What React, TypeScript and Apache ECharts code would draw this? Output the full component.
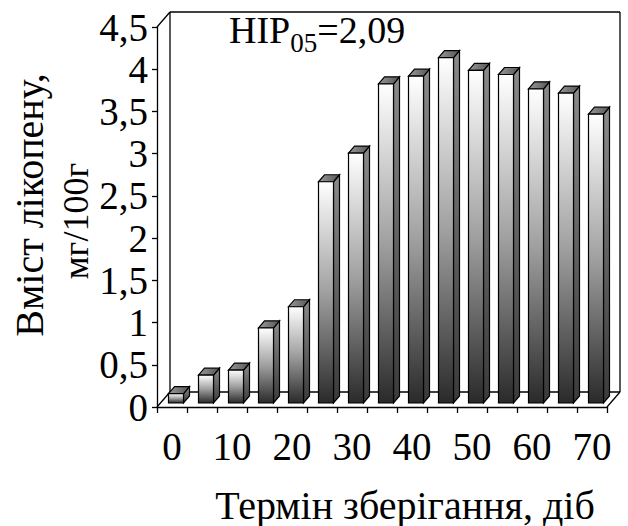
import React, { useEffect, useRef } from "react";
import * as echarts from "echarts";

const categories = ["0", "5", "10", "15", "20", "25", "30", "35", "40", "45", "50", "55", "60", "65", "70"];
const values = [0.11, 0.33, 0.39, 0.89, 1.14, 2.62, 2.96, 3.78, 3.87, 4.09, 3.94, 3.89, 3.72, 3.67, 3.42];
const yMin = 0;
const yMax = 4.5;
const yInterval = 0.5;
const xTitle = "Термін зберігання, діб";
const yTitle1 = "Вміст лікопену,";
const yTitle2 = "мг/100г";
const hipMain = "НІР";
const hipSub = "05";
const hipValue = "=2,09";

const FONT = "Liberation Serif";

export default function App() {
  const ref = useRef<HTMLDivElement>(null);
  useEffect(() => {
    if (!ref.current) return;
    const chart = echarts.init(ref.current, null, { renderer: "svg" });
    const WALL_DX = 13;
    const WALL_DY = -15;
    const FACE_DX = 4;
    const FACE_DY = -4;
    const BAR_DX = 6;
    const BAR_DY = -7;

    const option: any = {
      animation: false,
      backgroundColor: "#ffffff",
      textStyle: { fontFamily: FONT },
      grid: { left: 157, top: 27, width: 450, height: 380, containLabel: false },
      xAxis: {
        type: "category",
        data: categories,
        boundaryGap: true,
        axisLine: { show: true, lineStyle: { color: "#000", width: 1.3 } },
        axisTick: { show: true, interval: 0, length: 6, lineStyle: { color: "#000", width: 1.3 } },
        axisLabel: {
          interval: 1,
          margin: 20,
          color: "#000",
          fontFamily: FONT,
          fontSize: 39,
        },
        splitLine: { show: false },
      },
      yAxis: {
        type: "value",
        min: yMin,
        max: yMax,
        interval: yInterval,
        axisLine: { show: true, lineStyle: { color: "#000", width: 1.3 } },
        axisTick: { show: true, length: 5, lineStyle: { color: "#000", width: 1.3 } },
        axisLabel: {
          margin: 9,
          color: "#000",
          fontFamily: FONT,
          fontSize: 39,
          formatter: (v: number) => String(v).replace(".", ","),
        },
        splitLine: { show: false },
      },
      graphic: [
        {
          type: "text",
          x: 29,
          y: 205,
          rotation: Math.PI / 2,
          style: {
            text: yTitle1,
            font: "40px Liberation Serif",
            fill: "#000",
            align: "center",
            verticalAlign: "middle",
          },
        },
        {
          type: "text",
          x: 76,
          y: 221,
          rotation: Math.PI / 2,
          style: {
            text: yTitle2,
            font: "36px Liberation Serif",
            fill: "#000",
            align: "center",
            verticalAlign: "middle",
          },
        },
        {
          type: "text",
          x: 405,
          y: 505,
          style: {
            text: xTitle,
            font: "40px Liberation Serif",
            fill: "#000",
            align: "center",
            verticalAlign: "middle",
          },
        },
        {
          type: "text",
          x: 229,
          y: 11,
          style: {
            text: "{a|" + hipMain + "}{s|" + hipSub + "}{a|" + hipValue + "}",
            align: "left",
            verticalAlign: "top",
            rich: {
              a: {
                fontFamily: FONT,
                fontSize: 38,
                lineHeight: 38,
                verticalAlign: "top",
                color: "#000",
              },
              s: {
                fontFamily: FONT,
                fontSize: 27,
                lineHeight: 27,
                padding: [18, 0, 0, 0],
                verticalAlign: "top",
                color: "#000",
              },
            },
          },
        },
      ],
      series: [
        {
          type: "custom",
          name: "frame",
          clip: false,
          silent: true,
          z: 1,
          data: [[0, 0]],
          renderItem: (params: any, api: any) => {
            const cs = params.coordSys;
            const x = cs.x;
            const y = cs.y;
            const w = cs.width;
            const h = cs.height;
            const ls = { stroke: "#000", lineWidth: 1.3, fill: null };
            const line = (x1: number, y1: number, x2: number, y2: number) => ({
              type: "line",
              shape: { x1, y1, x2, y2 },
              style: ls,
            });
            return {
              type: "group",
              children: [
                line(x + WALL_DX, y + WALL_DY, x + w + WALL_DX, y + WALL_DY),
                line(x + w + WALL_DX, y + WALL_DY, x + w + WALL_DX, y + h + WALL_DY),
                line(x + WALL_DX, y + WALL_DY, x + WALL_DX, y + h + WALL_DY),
                line(x + WALL_DX, y + h + WALL_DY, x + w + WALL_DX, y + h + WALL_DY),
                line(x, y, x + WALL_DX, y + WALL_DY),
                line(x, y + h, x + WALL_DX, y + h + WALL_DY),
                line(x + w, y + h, x + w + WALL_DX, y + h + WALL_DY),
              ],
            };
          },
        },
        {
          type: "custom",
          name: "bars",
          clip: false,
          z: 2,
          encode: { x: 0, y: 1 },
          data: values.map((v, i) => [i, v]),
          renderItem: (params: any, api: any) => {
            const i = api.value(0);
            const v = api.value(1);
            const base = api.coord([i, 0]);
            const top = api.coord([i, v]);
            const band = api.size([1, 0])[0];
            const w = band * 0.5;
            const x0 = base[0] - w / 2 + FACE_DX;
            const x1 = x0 + w;
            const yb = base[1] + FACE_DY;
            const yt = top[1] + FACE_DY;
            const stroke = { stroke: "#000", lineWidth: 1.2 };
            return {
              type: "group",
              children: [
                {
                  type: "polygon",
                  shape: {
                    points: [
                      [x1, yt],
                      [x1 + BAR_DX, yt + BAR_DY],
                      [x1 + BAR_DX, yb + BAR_DY],
                      [x1, yb],
                    ],
                  },
                  style: {
                    ...stroke,
                    fill: {
                      type: "linear",
                      x: 0, y: 0, x2: 0, y2: 1,
                      colorStops: [
                        { offset: 0, color: "#8a8a8a" },
                        { offset: 1, color: "#3a3a3a" },
                      ],
                    },
                  },
                },
                {
                  type: "polygon",
                  shape: {
                    points: [
                      [x0, yt],
                      [x0 + BAR_DX, yt + BAR_DY],
                      [x1 + BAR_DX, yt + BAR_DY],
                      [x1, yt],
                    ],
                  },
                  style: {
                    ...stroke,
                    fill: {
                      type: "linear",
                      x: 0, y: 0, x2: 1, y2: 0,
                      colorStops: [
                        { offset: 0, color: "#9a9a9a" },
                        { offset: 1, color: "#555555" },
                      ],
                    },
                  },
                },
                {
                  type: "rect",
                  shape: { x: x0, y: yt, width: w, height: yb - yt },
                  style: {
                    ...stroke,
                    fill: {
                      type: "linear",
                      x: 0, y: 0, x2: 0, y2: 1,
                      colorStops: [
                        { offset: 0, color: "#ffffff" },
                        { offset: 0.5, color: "#a0a0a0" },
                        { offset: 1, color: "#2a2a2a" },
                      ],
                    },
                  },
                },
              ],
            };
          },
        },
      ],
    };
    chart.setOption(option);
    return () => chart.dispose();
  }, []);
  return (
    <div
      ref={ref}
      style={{ position: "fixed", left: 0, top: 0, width: 628, height: 526 }}
    />
  );
}
